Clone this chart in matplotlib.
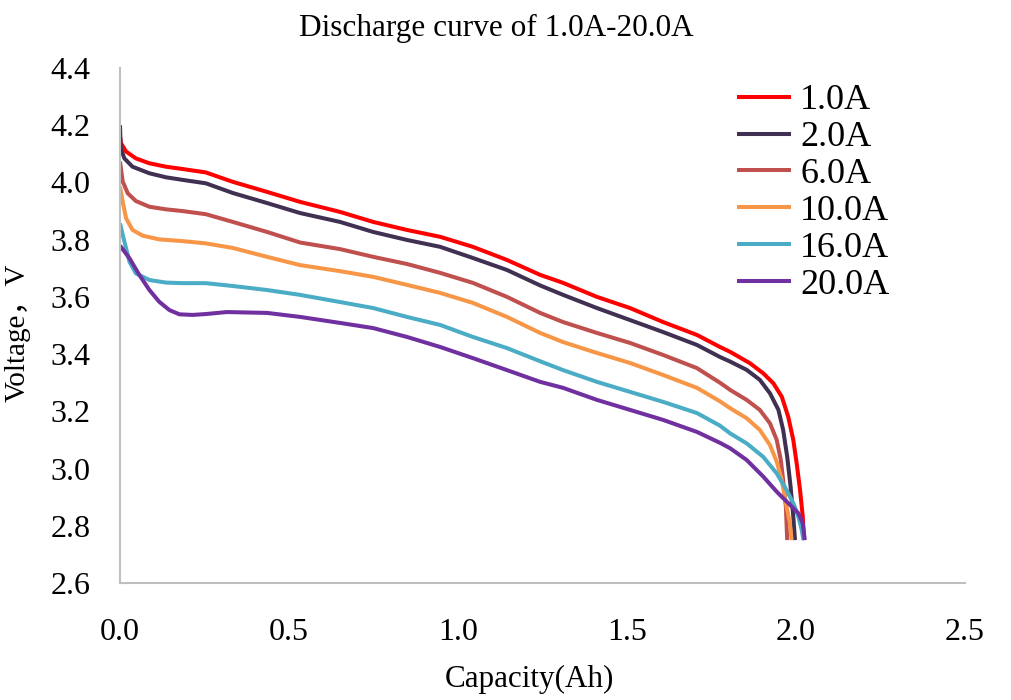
import matplotlib
matplotlib.use("Agg")
import matplotlib.pyplot as plt

plt.rcParams['font.family'] = ['Liberation Serif', 'Noto Sans CJK SC', 'DejaVu Sans']

labels = ["1.0A", "2.0A", "6.0A", "10.0A", "16.0A", "20.0A"]
colors = ["#FF0000", "#403152", "#C0504D", "#F79646", "#4BACC6", "#7030A0"]

cap_1A = [0.0, 0.003, 0.018, 0.047, 0.087, 0.136, 0.185, 0.254, 0.334, 0.435, 0.533, 0.651, 0.749, 0.849,
          0.947, 1.044, 1.145, 1.243, 1.311, 1.411, 1.509, 1.607, 1.707, 1.775, 1.805, 1.864, 1.903, 1.933,
          1.958, 1.977, 1.992, 2.002, 2.012, 2.020, 2.024]
v_1A = [4.16, 4.137, 4.108, 4.084, 4.067, 4.055, 4.047, 4.035, 4.002, 3.967, 3.932, 3.897, 3.862, 3.834,
        3.81, 3.775, 3.729, 3.677, 3.649, 3.60, 3.561, 3.512, 3.467, 3.425, 3.408, 3.368, 3.333, 3.298,
        3.251, 3.181, 3.10, 3.018, 2.925, 2.832, 2.75]

cap_2A = [0.0, 0.002, 0.013, 0.037, 0.087, 0.136, 0.185, 0.254, 0.334, 0.435, 0.533, 0.651, 0.749, 0.849,
          0.947, 1.044, 1.145, 1.243, 1.311, 1.411, 1.509, 1.607, 1.707, 1.775, 1.805, 1.854, 1.893, 1.923,
          1.948, 1.962, 1.974, 1.984, 1.992, 1.997]
v_2A = [4.20, 4.12, 4.084, 4.055, 4.032, 4.018, 4.009, 3.997, 3.963, 3.928, 3.893, 3.862, 3.827, 3.799,
        3.775, 3.736, 3.694, 3.640, 3.607, 3.561, 3.519, 3.477, 3.432, 3.39, 3.374, 3.345, 3.31, 3.263,
        3.205, 3.135, 3.041, 2.937, 2.832, 2.75]

cap_6A = [0.0, 0.008, 0.023, 0.047, 0.087, 0.136, 0.185, 0.254, 0.334, 0.435, 0.533, 0.651, 0.749, 0.849,
          0.947, 1.044, 1.145, 1.243, 1.311, 1.411, 1.509, 1.607, 1.707, 1.775, 1.805, 1.854, 1.893, 1.923,
          1.943, 1.955, 1.962, 1.970, 1.974]
v_6A = [4.073, 4.003, 3.962, 3.935, 3.915, 3.906, 3.90, 3.889, 3.862, 3.827, 3.79, 3.767, 3.74, 3.715,
        3.684, 3.649, 3.60, 3.544, 3.512, 3.474, 3.439, 3.397, 3.351, 3.30, 3.275, 3.24, 3.205, 3.158,
        3.10, 3.03, 2.96, 2.867, 2.75]

cap_10A = [0.0, 0.008, 0.018, 0.037, 0.067, 0.116, 0.185, 0.254, 0.334, 0.435, 0.533, 0.651, 0.749, 0.849,
           0.947, 1.044, 1.145, 1.243, 1.311, 1.411, 1.509, 1.607, 1.707, 1.775, 1.805, 1.854, 1.893, 1.923,
           1.943, 1.958, 1.970, 1.982, 1.987]
v_10A = [3.985, 3.933, 3.875, 3.834, 3.814, 3.801, 3.795, 3.787, 3.771, 3.74, 3.711, 3.69, 3.67, 3.642,
         3.614, 3.579, 3.53, 3.474, 3.442, 3.404, 3.369, 3.327, 3.282, 3.235, 3.211, 3.176, 3.135, 3.082,
         3.024, 2.96, 2.879, 2.809, 2.75]

cap_16A = [0.0, 0.013, 0.028, 0.047, 0.087, 0.136, 0.185, 0.254, 0.334, 0.435, 0.533, 0.651, 0.749, 0.849,
           0.947, 1.044, 1.145, 1.243, 1.311, 1.411, 1.509, 1.607, 1.707, 1.775, 1.805, 1.854, 1.903, 1.943,
           1.972, 1.992, 2.007, 2.017, 2.022]
v_16A = [3.857, 3.793, 3.723, 3.682, 3.659, 3.65, 3.648, 3.648, 3.638, 3.624, 3.607, 3.582, 3.561, 3.53,
         3.502, 3.46, 3.421, 3.375, 3.344, 3.303, 3.268, 3.233, 3.194, 3.15, 3.123, 3.088, 3.041, 2.983,
         2.925, 2.879, 2.832, 2.785, 2.75]

cap_20A = [0.0, 0.028, 0.057, 0.087, 0.116, 0.146, 0.176, 0.215, 0.254, 0.316, 0.435, 0.533, 0.651, 0.749,
           0.849, 0.947, 1.044, 1.145, 1.243, 1.311, 1.411, 1.509, 1.607, 1.707, 1.775, 1.805, 1.854, 1.903,
           1.943, 1.977, 2.007, 2.020, 2.026]
v_20A = [3.779, 3.735, 3.677, 3.624, 3.583, 3.554, 3.539, 3.537, 3.54, 3.547, 3.544, 3.53, 3.509, 3.491,
         3.46, 3.425, 3.386, 3.344, 3.303, 3.282, 3.24, 3.205, 3.17, 3.128, 3.09, 3.071, 3.03, 2.972,
         2.919, 2.879, 2.844, 2.809, 2.75]

caps = [cap_1A, cap_2A, cap_6A, cap_10A, cap_16A, cap_20A]
volts = [v_1A, v_2A, v_6A, v_10A, v_16A, v_20A]

x_ticks = [0.0, 0.5, 1.0, 1.5, 2.0, 2.5]
y_ticks = [2.6, 2.8, 3.0, 3.2, 3.4, 3.6, 3.8, 4.0, 4.2, 4.4]

fig = plt.figure(figsize=(10.11, 7.0), dpi=100)
ax = fig.add_axes([120/1011, 1-583/700, (965-120)/1011, (583-68)/700])

for c, v, lab, col in zip(caps, volts, labels, colors):
    ax.plot(c, v, color=col, lw=2.9, label=lab, solid_capstyle='butt', solid_joinstyle='round')

ax.set_xlim(0, 2.5)
ax.set_ylim(2.6, 4.4)
ax.set_xticks(x_ticks)
ax.set_xticklabels([f"{t:.1f}" for t in x_ticks])
ax.set_yticks(y_ticks)
ax.set_yticklabels([f"{t:.1f}" for t in y_ticks])
ax.tick_params(axis='both', length=0, labelsize=23)
ax.tick_params(axis='x', pad=25)
ax.tick_params(axis='y', pad=21)
for s in ['top', 'right']:
    ax.spines[s].set_visible(False)
for s in ['left', 'bottom']:
    ax.spines[s].set_color('#BFBFBF')
    ax.spines[s].set_linewidth(1.5)

fig.text(496/1011, 1-28/700, "Discharge curve of 1.0A-20.0A", ha='center', va='center', fontsize=22.5)
fig.text(529/1011, 1-679/700, "Capacity(Ah)", ha='center', va='center', fontsize=22.4)
fig.text(18/1011, 1-333/700, "Voltage，V", ha='center', va='center', rotation=90, fontsize=21)

leg = ax.legend(loc='upper left', bbox_to_anchor=(737/1011, 1-84/700), bbox_transform=fig.transFigure,
                frameon=False, fontsize=26, handlelength=1.5, handletextpad=0.25, labelspacing=0.1,
                borderpad=0, borderaxespad=0)

fig.savefig("out.png", dpi=100)
